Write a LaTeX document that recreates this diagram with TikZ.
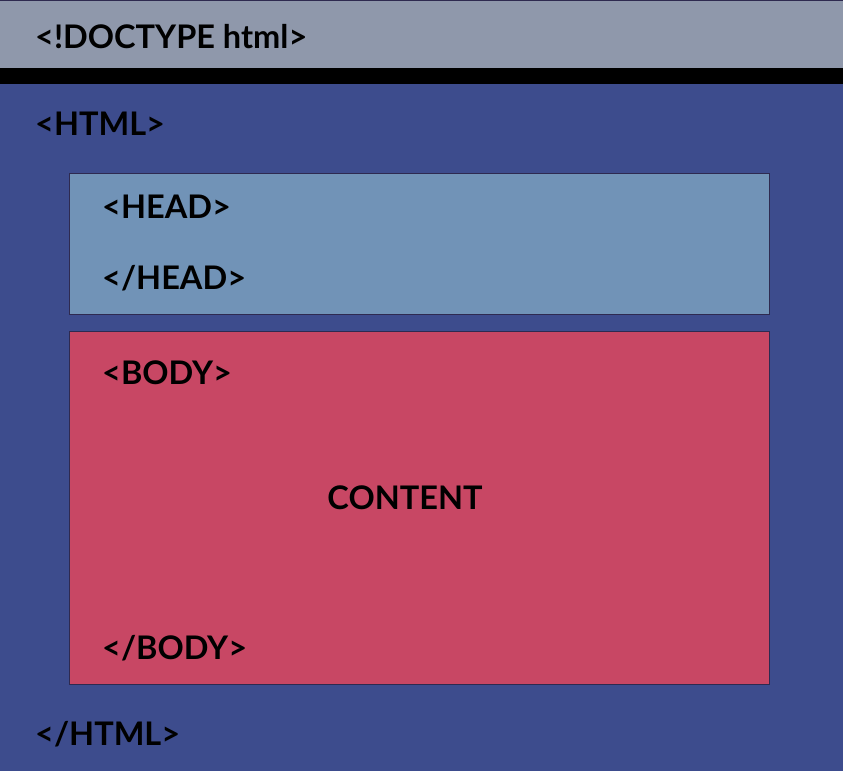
\documentclass[tikz,border=0pt]{standalone}
\usepackage{fontspec}
\setmainfont{Lato}
\definecolor{pagegray}{HTML}{8F98AB}
\definecolor{htmlblue}{HTML}{3D4C8D}
\definecolor{headblue}{HTML}{7193B7}
\definecolor{bodyred}{HTML}{C84764}
\definecolor{edge}{HTML}{2E2A50}
\tikzset{
  tag/.style={anchor=base west, inner sep=0pt, font=\fontsize{32.5}{36}\selectfont\bfseries, text=black},
  region/.style={draw=edge, line width=1pt},
}
\begin{document}
\begin{tikzpicture}[x=1pt, y=-1pt]
  \useasboundingbox (0,0) rectangle (843,771);
  % page background and doctype band
  \fill[htmlblue] (0,0) rectangle (843,771);
  \fill[pagegray] (0,0) rectangle (843,68);
  \draw[edge, line width=1pt] (0,0.5) -- (843,0.5);
  \fill[black] (0,68) rectangle (843,84);
  % head and body regions
  \node[region, fill=headblue, minimum width=700pt, minimum height=141pt, anchor=north west, inner sep=0pt] (head) at (69,173) {};
  \node[region, fill=bodyred, minimum width=700pt, minimum height=353pt, anchor=north west, inner sep=0pt] (body) at (69,331) {};
  % tags
  \node[tag] (doctype) at (35,48) {<!DOCTYPE html>};
  \node[tag] (htmlopen) at (35,135) {<HTML>};
  \node[tag] (headopen) at (102,218) {<HEAD>};
  \node[tag] (headclose) at (102,289) {</HEAD>};
  \node[tag] (bodyopen) at (102,384) {<BODY>};
  \node[tag, anchor=base] (content) at (405,509) {CONTENT};
  \node[tag] (bodyclose) at (102,659) {</BODY>};
  \node[tag] (htmlclose) at (35,745) {</HTML>};
\end{tikzpicture}
\end{document}
